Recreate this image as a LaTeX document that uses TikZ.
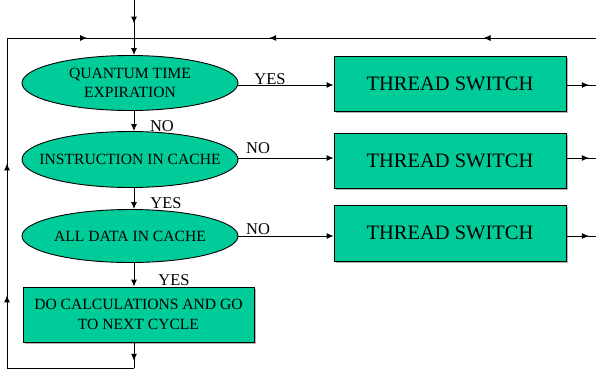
\documentclass[tikz,border=0pt]{standalone}
\usepackage{fontspec}
\setmainfont{Liberation Serif}
\newfontfamily\tnr{Liberation Serif}
\usetikzlibrary{shapes.geometric,arrows.meta,decorations.markings,shadows}
\definecolor{fillgreen}{RGB}{0,204,153}
\tikzset{
  tip/.style={-{Latex[length=7pt,width=6pt]}},
  line/.style={draw=black,line width=0.9pt},
  elnode/.style={ellipse,draw=black,line width=0.9pt,fill=fillgreen,inner sep=0pt},
  eltext/.style={align=center,inner sep=0pt,font=\tnr\fontsize{15.6}{19}\selectfont},
  boxnode/.style={rectangle,draw=black,line width=0.9pt,fill=fillgreen,inner sep=0pt,
     align=center,drop shadow={shadow xshift=1.5pt,shadow yshift=-1.5pt,fill=gray!60,opacity=1}},
  lbl/.style={font=\tnr\fontsize{16.5}{19}\selectfont,inner sep=0pt},
  midtip/.style={postaction={decorate,decoration={markings,
     mark=at position #1 with {\arrow{Latex[length=7pt,width=6pt]}}}}},
}
\begin{document}
\begin{tikzpicture}[x=1pt,y=-1pt]
\clip (0,0) rectangle (596,369);
\fill[white] (0,0) rectangle (596,369);

% nodes
\node[elnode,minimum width=216,minimum height=55] (q) at (130,83) {};
\node[eltext] (qt) at (q.center) {QUANTUM TIME\\EXPIRATION};
\node[elnode,minimum width=216,minimum height=56] (ic) at (130,159.5) {};
\node[eltext] (ict) at (ic.center) {INSTRUCTION IN CACHE};
\node[elnode,minimum width=216,minimum height=53] (ad) at (130,236) {};
\node[eltext] (adt) at (ad.center) {ALL DATA IN CACHE};
\node[boxnode,minimum width=231,minimum height=55,font=\tnr\fontsize{15.6}{19.5}\selectfont] (calc) at (138.5,314.5) {DO CALCULATIONS AND GO\\TO NEXT CYCLE};
\node[boxnode,minimum width=232,minimum height=55,font=\tnr\fontsize{20.5}{24}\selectfont] (ts1) at (450,83.5) {THREAD SWITCH};
\node[boxnode,minimum width=232,minimum height=55,font=\tnr\fontsize{20.5}{24}\selectfont] (ts2) at (450,160.5) {THREAD SWITCH};
\node[boxnode,minimum width=232,minimum height=56,font=\tnr\fontsize{20.5}{24}\selectfont] (ts3) at (450,233) {THREAD SWITCH};

% loop coordinates
\coordinate (top) at (134,0);
\coordinate (tl) at (7,38);
\coordinate (tj) at (134,38);
\coordinate (tr) at (600,38);
\coordinate (bl) at (7,368);
\coordinate (bj) at (134,368);
\coordinate (rb) at (600,236);

% entry and top line
\draw[line,midtip=0.62] (top) -- (tj);
\draw[line,tip] (tj) -- ([xshift=4]q.north);
\draw[line,midtip=0.25,midtip=0.71] (tr) -- (tj);
\draw[line,midtip=0.63] (tl) -- (tj);

% left return line
\draw[line,midtip=0.22,midtip=0.62] (bl) -- (tl);

% vertical flow
\draw[line,tip] ([xshift=4]q.south) -- ([xshift=4]ic.north);
\draw[line,tip] ([xshift=4]ic.south) -- ([xshift=4]ad.north);
\draw[line,tip] ([xshift=4]ad.south) -- ([xshift=4]ad.south |- calc.north);
\draw[line,midtip=0.72] ([xshift=4]ad.south |- calc.south) -- (bj);
\draw[line] (bj) -- (bl);

% horizontal flow
\draw[line,tip] (q.east |- 0,85) -- (ts1.west |- 0,85);
\draw[line,tip] (ic.east |- 0,158) -- (ts2.west |- 0,158);
\draw[line,tip] (ad.east |- 0,236) -- (ts3.west |- 0,236);

% outputs
\draw[line,midtip=0.67] (ts1.east |- 0,85) -- (600,85);
\draw[line,midtip=0.67] (ts2.east |- 0,158) -- (600,158);
\draw[line,midtip=0.67] (ts3.east |- 0,236) -- (rb);
\draw[line,midtip=0.19,midtip=0.61,midtip=0.92] (rb) -- (tr);

% labels
\node[lbl] (l1) at (270,79) {YES};
\node[lbl] (l2) at (162,126) {NO};
\node[lbl] (l3) at (258,148) {NO};
\node[lbl] (l4) at (166,203) {YES};
\node[lbl] (l5) at (258,229) {NO};
\node[lbl] (l6) at (174,280) {YES};
\end{tikzpicture}
\end{document}
